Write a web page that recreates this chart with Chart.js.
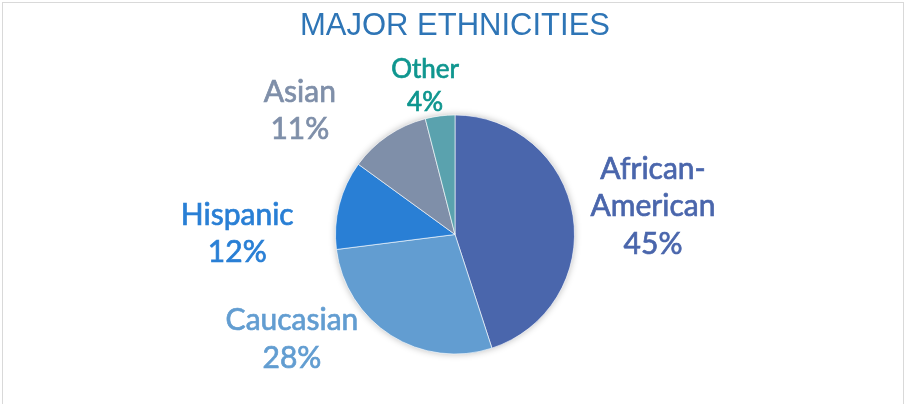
<!DOCTYPE html>
<html>
<head>
<meta charset="utf-8">
<script src="https://cdn.jsdelivr.net/npm/chart.js@4/dist/chart.umd.min.js"></script>
<style>
  html, body { margin: 0; padding: 0; background: #fff; }
  #wrap { width: 907px; height: 404px; }
</style>
</head>
<body>
<div id="wrap"><canvas id="chart" width="907" height="404"></canvas></div>
<script>
'use strict';

const categories = ['African-American', 'Caucasian', 'Hispanic', 'Asian', 'Other'];
const shares = [45, 28, 12, 11, 4];
const labelLines = [['African-', 'American'], ['Caucasian'], ['Hispanic'], ['Asian'], ['Other']];

const sliceColors = ['#4a66ac', '#629dd1', '#297fd5', '#7f8fa9', '#5aa2ae'];
const textColors = ['#4a66ac', '#629dd1', '#297fd5', '#7f8fa9', '#0f968f'];
// nudge of each label block from the slice's outer mid point
const labelNudge = [[80, -9], [-99, 4], [-102, 29], [-88, -25], [-15, -30]];
const labelSize = [30, 30, 30, 30, 26];

// frame + soft shadow under the pie
const framePlugin = {
  id: 'frame',
  beforeDraw(chart) {
    const ctx = chart.ctx;
    ctx.save();
    ctx.strokeStyle = '#d9d9d9';
    ctx.lineWidth = 1;
    ctx.strokeRect(2.5, 2.5, 901, 420);
    ctx.restore();
  },
  beforeDatasetsDraw(chart) {
    const arc = chart.getDatasetMeta(0).data[0];
    if (!arc) return;
    const ctx = chart.ctx;
    ctx.save();
    ctx.shadowColor = 'rgba(0,0,0,0.28)';
    ctx.shadowBlur = 7;
    ctx.fillStyle = '#fff';
    ctx.beginPath();
    ctx.arc(arc.x, arc.y, arc.outerRadius, 0, Math.PI * 2);
    ctx.fill();
    ctx.restore();
  }
};

const labelPlugin = {
  id: 'sliceLabels',
  afterDatasetsDraw(chart) {
    const ctx = chart.ctx;
    const meta = chart.getDatasetMeta(0);
    meta.data.forEach((arc, i) => {
      const mid = (arc.startAngle + arc.endAngle) / 2;
      const ox = arc.x + Math.cos(mid) * arc.outerRadius;
      const oy = arc.y + Math.sin(mid) * arc.outerRadius;
      const cx = ox + labelNudge[i][0];
      const cy = oy + labelNudge[i][1];
      const lines = labelLines[i].concat([shares[i] + '%']);
      const size = labelSize[i];
      const lh = size * 1.25;
      ctx.save();
      ctx.font = size + 'px Lato, "Open Sans", sans-serif';
      ctx.fillStyle = textColors[i];
      ctx.strokeStyle = textColors[i];
      ctx.lineWidth = 0.7;
      ctx.textAlign = 'center';
      ctx.textBaseline = 'middle';
      const top = cy - (lines.length - 1) * lh / 2;
      lines.forEach((t, k) => {
        ctx.fillText(t, cx, top + k * lh);
        ctx.strokeText(t, cx, top + k * lh);
      });
      ctx.restore();
    });
  }
};

const chartData = {
  labels: categories,
  datasets: [{
    data: shares,
    backgroundColor: sliceColors,
    borderColor: 'rgba(255,255,255,0.6)',
    borderWidth: 1
  }]
};

new Chart(document.getElementById('chart'), {
  type: 'pie',
  data: chartData,
  options: {
    responsive: false,
    animation: false,
    layout: { padding: { top: 8, bottom: 49.5, left: 3, right: 0 } },
    plugins: {
      legend: { display: false },
      tooltip: { enabled: false },
      title: {
        display: true,
        text: 'MAJOR ETHNICITIES',
        color: '#2e75b6',
        font: { family: '"Liberation Sans", Arial, sans-serif', size: 31, weight: 'normal', lineHeight: 1.2 },
        padding: { top: 0, bottom: 69.3 }
      }
    }
  },
  plugins: [framePlugin, labelPlugin]
});
</script>
</body>
</html>
